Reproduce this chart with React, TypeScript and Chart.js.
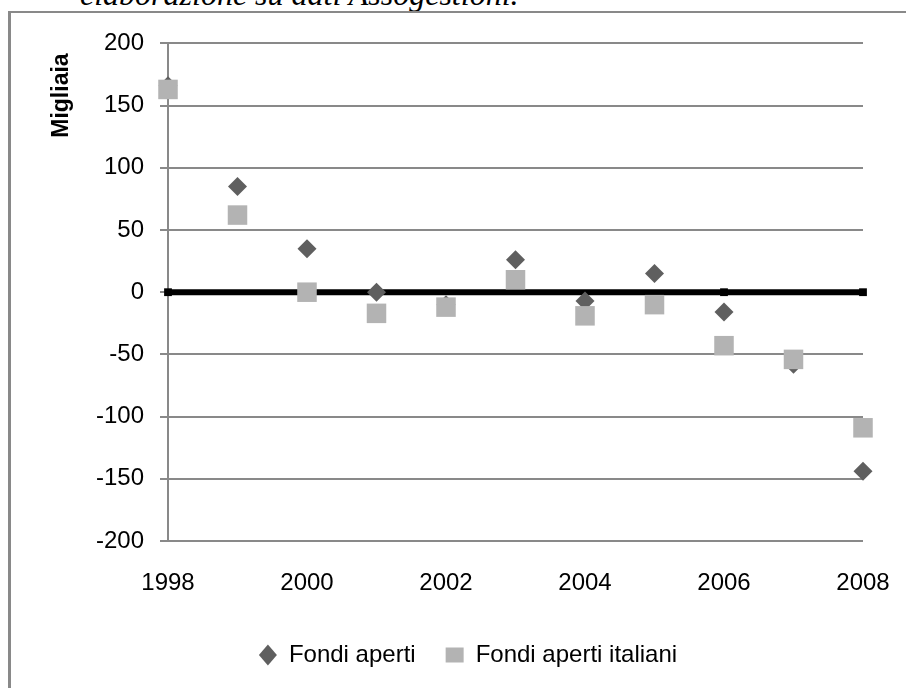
import React, { useEffect, useRef } from 'react';
import { Chart, registerables } from 'chart.js';

Chart.register(...registerables);

// Years on the horizontal axis and the two series (thousands)
const years = [1998, 1999, 2000, 2001, 2002, 2003, 2004, 2005, 2006, 2007, 2008];
const fondiAperti = [166, 85, 35, 0, -10, 26, -7, 15, -16, -58, -144];
const fondiApertiItaliani = [163, 62, 0, -17, -12, 10, -19, -10, -43, -54, -109];

// Zero reference line and the years where it carries a marker
const baseline = [0, 0, 0, 0, 0, 0, 0, 0, 0, 0, 0];
const markedYears = [1998, 2006, 2008];

const yearTicks = [1998, 2000, 2002, 2004, 2006, 2008];
const valueTicks = [-200, -150, -100, -50, 0, 50, 100, 150, 200];

const seriesLabels = ['Fondi aperti', 'Fondi aperti italiani'];
const yAxisTitle = 'Migliaia';
const noteText = 'elaborazione su dati Assogestioni.';

const FONT = '"Liberation Sans", Arial, sans-serif';
const GRID = '#898989';

// Rotated axis title anchored near the top of the value axis
const axisTitlePlugin = {
  id: 'axisTitle',
  afterDraw(chart: Chart) {
    const { ctx, chartArea } = chart;
    ctx.save();
    ctx.translate(chartArea.left - 100, chartArea.top + 10);
    ctx.rotate(-Math.PI / 2);
    ctx.font = `bold 23px ${FONT}`;
    ctx.fillStyle = '#000';
    ctx.textAlign = 'right';
    ctx.textBaseline = 'alphabetic';
    ctx.fillText(yAxisTitle, 0, 0);
    ctx.restore();
  },
};

export default function App() {
  const canvasRef = useRef<HTMLCanvasElement>(null);

  useEffect(() => {
    const canvas = canvasRef.current;
    if (!canvas) return;
    const tickFont = { family: FONT, size: 24 };

    const chart = new Chart(canvas, {
      type: 'scatter',
      data: {
        datasets: [
          {
            label: seriesLabels[1],
            data: years.map((x, i) => ({ x, y: fondiApertiItaliani[i] })),
            backgroundColor: '#b3b3b3',
            borderColor: '#b3b3b3',
            borderWidth: 0,
            pointBorderWidth: 0,
            pointStyle: 'rect',
            pointRadius: 13.8,
            pointHoverRadius: 13.8,
            clip: false,
          },
          {
            label: seriesLabels[0],
            data: years.map((x, i) => ({ x, y: fondiAperti[i] })),
            backgroundColor: '#5f5f5f',
            borderColor: '#5f5f5f',
            borderWidth: 0,
            pointBorderWidth: 0,
            pointStyle: 'rectRot',
            pointRadius: 9.5,
            pointHoverRadius: 9.5,
            clip: false,
          },
          {
            label: 'zero',
            data: years.map((x, i) => ({ x, y: baseline[i] })),
            showLine: true,
            borderColor: '#000',
            backgroundColor: '#000',
            borderWidth: 6,
            pointBorderWidth: 0,
            pointStyle: 'rect',
            pointRadius: (c: any) => (markedYears.includes(years[c.dataIndex]) ? 5.5 : 0),
            pointHoverRadius: 0,
            clip: false,
          },
        ],
      },
      options: {
        animation: false,
        responsive: false,
        events: [],
        layout: { padding: { left: 62, right: 58, top: 29, bottom: 0 } },
        scales: {
          x: {
            type: 'linear',
            min: 1998,
            max: 2008,
            afterBuildTicks: (s: any) => {
              s.ticks = yearTicks.map((v) => ({ value: v }));
            },
            afterFit: (s: any) => {
              s.height = 72;
            },
            grid: { display: false, drawTicks: false },
            border: { display: false },
            ticks: {
              padding: 28,
              color: '#000',
              font: tickFont,
              maxRotation: 0,
              autoSkip: false,
              callback: (v: any) => String(v),
            },
          },
          y: {
            min: -200,
            max: 200,
            afterBuildTicks: (s: any) => {
              s.ticks = valueTicks.map((v) => ({ value: v }));
            },
            afterFit: (s: any) => {
              s.width = 95;
            },
            grid: { color: GRID, lineWidth: 2, tickLength: 8, drawTicks: true },
            border: { display: true, color: GRID, width: 2 },
            ticks: {
              padding: 16,
              color: '#000',
              font: tickFont,
              callback: (v: any) => String(v),
            },
          },
        },
        plugins: {
          legend: {
            position: 'bottom',
            labels: {
              usePointStyle: true,
              pointStyleWidth: 18,
              boxHeight: 15,
              padding: 30,
              color: '#000',
              font: tickFont,
              filter: (item: any) => item.datasetIndex !== 2,
              sort: (a: any, b: any) => b.datasetIndex - a.datasetIndex,
            },
          },
          tooltip: { enabled: false },
        },
      },
      plugins: [axisTitlePlugin],
    });

    return () => chart.destroy();
  }, []);

  return (
    <div
      style={{
        position: 'fixed',
        left: 0,
        top: 0,
        width: 906,
        height: 688,
        overflow: 'hidden',
        background: '#fff',
      }}
    >
      <div
        style={{
          position: 'absolute',
          left: 80,
          top: -22,
          font: 'italic 32px "Liberation Serif", "Times New Roman", serif',
          lineHeight: '32px',
          whiteSpace: 'nowrap',
          color: '#000',
        }}
      >
        {noteText}
      </div>
      <div
        style={{
          position: 'absolute',
          left: 8,
          top: 11,
          width: 1000,
          height: 800,
          borderLeft: `3px solid ${GRID}`,
          borderTop: `2px solid ${GRID}`,
        }}
      >
        <canvas
          ref={canvasRef}
          width={910}
          height={664}
          style={{ position: 'absolute', left: 0, top: 0, width: 910, height: 664 }}
        />
      </div>
    </div>
  );
}
